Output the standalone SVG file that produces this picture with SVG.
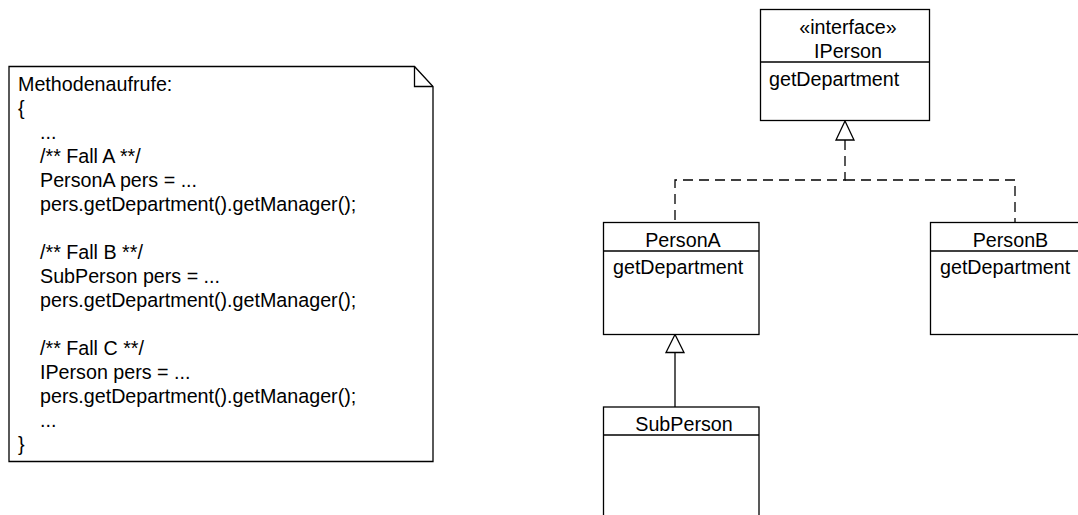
<svg xmlns="http://www.w3.org/2000/svg" width="1078" height="515" viewBox="0 0 1078 515">
<style>
  .box { fill: #fff; stroke: #000; stroke-width: 1.3; }
  .ln { fill: none; stroke: #000; stroke-width: 1.3; }
  .dash { fill: none; stroke: #000; stroke-width: 1.3; stroke-dasharray: 10 6; }
  .tri { fill: #fff; stroke: #000; stroke-width: 1.3; }
  text { font-family: "Liberation Sans", Arial, sans-serif; font-size: 19.7px; fill: #000; }
  .c { text-anchor: middle; }
</style>
<rect width="1078" height="515" fill="#fff"/>

<g id="connectors">
  <path class="dash" d="M845,140 V180 H675 V222.5"/>
  <path class="dash" d="M845,180 H1015 V222.5"/>
  <polygon class="tri" points="845,121 836,140 854,140"/>
  <line class="ln" x1="675" y1="352.5" x2="675" y2="407"/>
  <polygon class="tri" points="675,334.5 666,352.5 684,352.5"/>
</g>

<g id="note">
  <path class="box" d="M9,66.5 H414.5 L433,86.5 V461.5 H9 Z"/>
  <path class="ln" d="M414.5,66.5 V86.5 H433"/>
  <text x="18" y="90.7">Methodenaufrufe:</text>
  <text x="18" y="114.7">{</text>
  <text x="40" y="138.7">...</text>
  <text x="40" y="162.7">/** Fall A **/</text>
  <text x="40" y="186.7">PersonA pers = ...</text>
  <text x="40" y="210.7">pers.getDepartment().getManager();</text>
  <text x="40" y="258.7">/** Fall B **/</text>
  <text x="40" y="282.7">SubPerson pers = ...</text>
  <text x="40" y="306.7">pers.getDepartment().getManager();</text>
  <text x="40" y="354.7">/** Fall C **/</text>
  <text x="40" y="378.7">IPerson pers = ...</text>
  <text x="40" y="402.7">pers.getDepartment().getManager();</text>
  <text x="40" y="426.7">...</text>
  <text x="18" y="450.7">}</text>
</g>

<g id="IPerson">
  <rect class="box" x="760.5" y="9.5" width="169" height="111"/>
  <line class="ln" x1="760.5" y1="62" x2="929.5" y2="62"/>
  <text class="c" x="848" y="34">«interface»</text>
  <text class="c" x="848" y="58">IPerson</text>
  <text x="769" y="86">getDepartment</text>
</g>

<g id="PersonA">
  <rect class="box" x="603.5" y="222.5" width="155.5" height="112"/>
  <line class="ln" x1="603.5" y1="251" x2="759" y2="251"/>
  <text class="c" x="683" y="246.5">PersonA</text>
  <text x="613" y="274">getDepartment</text>
</g>

<g id="PersonB">
  <rect class="box" x="930.5" y="222.5" width="155.5" height="112"/>
  <line class="ln" x1="930.5" y1="251" x2="1086" y2="251"/>
  <text class="c" x="1010.5" y="246.5">PersonB</text>
  <text x="940" y="274">getDepartment</text>
</g>

<g id="SubPerson">
  <rect class="box" x="603.5" y="407" width="155.5" height="120"/>
  <line class="ln" x1="603.5" y1="435" x2="759" y2="435"/>
  <text class="c" x="684" y="431">SubPerson</text>
</g>
</svg>
